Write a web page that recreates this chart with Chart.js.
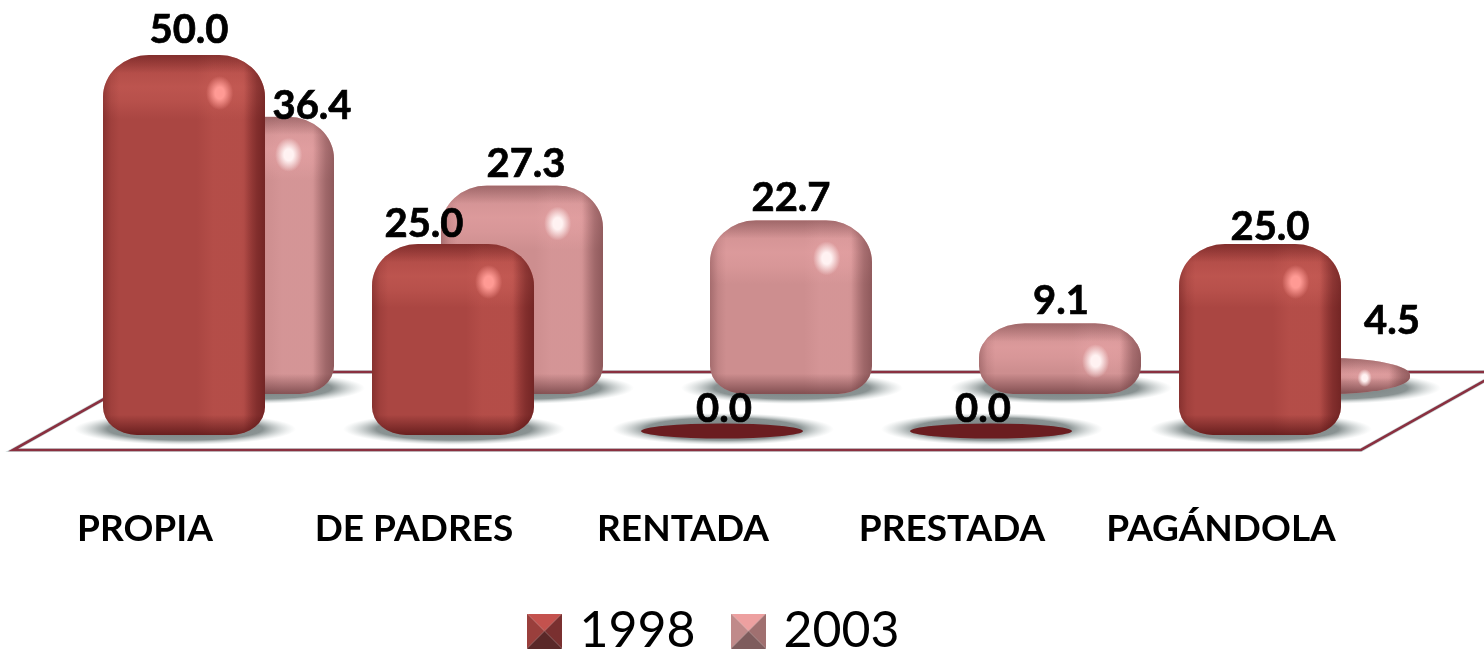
<!DOCTYPE html>
<html><head><meta charset="utf-8">
<style>html,body{margin:0;padding:0;background:#fff}#w{width:1484px;height:653px}</style>
<script src="https://cdn.jsdelivr.net/npm/chart.js@4"></script>
</head><body><div id="w"><canvas id="c" width="1484" height="653"></canvas></div>
<script>
const categories = ['PROPIA','DE PADRES','RENTADA','PRESTADA','PAGÁNDOLA'];
const values1998 = [50.0,25.0,0.0,0.0,25.0];
const values2003 = [36.4,27.3,22.7,9.1,4.5];
const seriesNames = ['1998','2003'];

const palette = {
  '1998':{base:'#aa4642',shine:'rgba(214,104,96,',edge:'rgba(70,10,12,',dot:'#ff9a94',band:'rgba(225,110,100,',zero:'#6b1d20',top:'#c4524e',left:'#9a3f3c',right:'#7a3030',bot:'#5a2828'},
  '2003':{base:'#cd8e8f',shine:'rgba(240,170,172,',edge:'rgba(90,45,48,',dot:'#fff2f2',band:'rgba(245,180,182,',zero:'#b07070',top:'#eda0a0',left:'#c08a8a',right:'#a07070',bot:'#7e5c5d'}
};
const labelNudge = {'1998':[[5,-13],[-29,-8],[2,-12],[-8,-12],[10,-5]],'2003':[[59,1],[4,-10],[0,-10],[1,-10],[63,-25]]};

function swatch(p){
  const s=35,c=document.createElement('canvas');c.width=c.height=s;const g=c.getContext('2d');
  const tri=(a,b,col)=>{g.fillStyle=col;g.beginPath();g.moveTo(a[0],a[1]);g.lineTo(b[0],b[1]);g.lineTo(s/2,s/2);g.closePath();g.fill();};
  tri([0,0],[s,0],p.top);tri([0,0],[0,s],p.left);tri([s,0],[s,s],p.right);tri([0,s],[s,s],p.bot);
  return c;
}
const swatches=[swatch(palette['1998']),swatch(palette['2003'])];

function roundedPath(ctx,l,t,r,b,rx,ry,rx2,ry2){
  ctx.beginPath();
  ctx.moveTo(l,t+ry);
  ctx.ellipse(l+rx,t+ry,rx,ry,0,Math.PI,1.5*Math.PI);
  ctx.lineTo(r-rx,t);
  ctx.ellipse(r-rx,t+ry,rx,ry,0,1.5*Math.PI,2*Math.PI);
  ctx.lineTo(r,b-ry2);
  ctx.ellipse(r-rx2,b-ry2,rx2,ry2,0,0,.5*Math.PI);
  ctx.lineTo(l+rx2,b);
  ctx.ellipse(l+rx2,b-ry2,rx2,ry2,0,.5*Math.PI,Math.PI);
  ctx.closePath();
}
Chart.BarElement.prototype.draw=function(ctx){
  const {x,y,base,width}=this.getProps(['x','y','base','width'],true);
  const key=this.options.backgroundColor;
  const p=key===palette['1998'].base?palette['1998']:palette['2003'];
  const l=x-width/2,r=x+width/2,t=y,b=base,h=b-t;
  ctx.save();
  const sy=b-5;
  ctx.save();ctx.translate(x+1,sy);ctx.scale((width/2+30)/16,1);
  let sg=ctx.createRadialGradient(0,0,0,0,0,16);
  sg.addColorStop(0,'rgba(115,125,125,1)');sg.addColorStop(.7,'rgba(125,135,135,.9)');sg.addColorStop(1,'rgba(190,200,200,0)');
  ctx.fillStyle=sg;ctx.beginPath();ctx.arc(0,0,16,0,Math.PI*2);ctx.fill();ctx.restore();
  if(h<2){
    ctx.fillStyle=p.zero;ctx.beginPath();ctx.ellipse(x,b-3,width/2,7.5,0,0,Math.PI*2);ctx.fill();
    ctx.restore();return;
  }
  const small=h<50;
  const ry=Math.min(42,h*.5),rx=small?width/2:46;
  const ry2=Math.min(28,h*.5),rx2=small?width/2:34;
  const bt=t-1,bb=b+1;
  roundedPath(ctx,l,bt,r,bb,rx,ry,rx2,ry2);
  ctx.fillStyle=p.base;ctx.fill();ctx.clip();
  let g=ctx.createLinearGradient(l,0,r,0);
  g.addColorStop(.58,p.band+'0)');g.addColorStop(.68,p.band+'.18)');g.addColorStop(.85,p.band+'.18)');g.addColorStop(.92,p.band+'0)');
  ctx.fillStyle=g;ctx.fillRect(l,bt,width,h+2);
  const sh=Math.min(64,h*.7);
  g=ctx.createLinearGradient(0,bt,0,bt+sh);
  g.addColorStop(0,p.shine+'0)');g.addColorStop(.5,p.shine+'.42)');g.addColorStop(.72,p.shine+'.3)');g.addColorStop(1,p.shine+'0)');
  ctx.fillStyle=g;ctx.fillRect(l,bt,width,sh);
  g=ctx.createLinearGradient(l,0,r,0);
  g.addColorStop(0,p.edge+'.35)');g.addColorStop(.05,p.edge+'.1)');g.addColorStop(.1,p.edge+'0)');
  g.addColorStop(.87,p.edge+'0)');g.addColorStop(.95,p.edge+'.4)');g.addColorStop(1,p.edge+'.55)');
  ctx.fillStyle=g;ctx.fillRect(l,bt,width,h+2);
  g=ctx.createLinearGradient(0,bt,0,bb);
  const tf=Math.min(.45,18/h),bf=Math.min(.45,20/h);
  g.addColorStop(0,p.edge+'.4)');g.addColorStop(tf,p.edge+'0)');g.addColorStop(1-bf,p.edge+'0)');g.addColorStop(1,p.edge+'.65)');
  ctx.fillStyle=g;ctx.fillRect(l,bt,width,h+2);
  const dx=l+width*.72,dy=t+Math.min(37,h*.56);
  ctx.save();ctx.translate(dx,dy);ctx.scale(.8,1);
  const dr=small?9:17;
  let dg=ctx.createRadialGradient(0,0,1,0,0,dr);
  dg.addColorStop(0,p.dot);dg.addColorStop(.3,p.dot);dg.addColorStop(1,p.dot+'00');
  ctx.fillStyle=dg;ctx.beginPath();ctx.arc(0,0,dr,0,Math.PI*2);ctx.fill();ctx.restore();
  ctx.restore();
};

const floorPlugin={id:'floor',beforeDatasetsDraw(chart){
  const ctx=chart.ctx,a=chart.scales.y.getPixelForValue(0);
  const by=a+16,ty=a-62,lx=13,rx=1361,sk=139;
  ctx.save();
  ctx.beginPath();ctx.moveTo(lx,by);ctx.lineTo(rx,by);ctx.lineTo(rx+sk,ty);ctx.lineTo(lx+sk,ty);ctx.closePath();
  ctx.fillStyle='#fff';ctx.fill();
  ctx.strokeStyle='rgba(170,195,195,.6)';ctx.lineWidth=4;ctx.translate(0,1.5);ctx.stroke();ctx.translate(0,-1.5);
  ctx.strokeStyle='#8a3040';ctx.lineWidth=2.6;ctx.stroke();
  ctx.restore();
}};
const labelPlugin={id:'vals',afterDatasetsDraw(chart){
  const ctx=chart.ctx;ctx.save();
  ctx.font='bold 40px Lato';ctx.fillStyle='#000';ctx.strokeStyle='#000';ctx.lineWidth=.7;ctx.textAlign='center';ctx.textBaseline='alphabetic';
  chart.data.datasets.forEach((ds,i)=>{
    chart.getDatasetMeta(i).data.forEach((el,j)=>{
      const n=labelNudge[ds.label][j],s=ds.data[j].y.toFixed(1);
      ctx.fillText(s,el.x+n[0],el.y+n[1]);ctx.strokeText(s,el.x+n[0],el.y+n[1]);
    });
  });
  ctx.restore();
}};
const legendShift={id:'legendShift',afterLayout(chart){
  const L=chart.legend;L.right+=68;L.top+=13;
}};
const pts=a=>a.map((v,i)=>({x:i,y:v}));
new Chart(document.getElementById('c'),{
  type:'bar',
  data:{labels:categories,datasets:[
    {label:seriesNames[0],data:pts(values1998),backgroundColor:palette['1998'].base,xAxisID:'xFront',yAxisID:'y',barThickness:162,grouped:false,clip:false},
    {label:seriesNames[1],data:pts(values2003),backgroundColor:palette['2003'].base,xAxisID:'xBack',yAxisID:'yBack',barThickness:162,grouped:false,clip:false}
  ]},
  plugins:[floorPlugin,labelPlugin,legendShift],
  options:{
    responsive:false,animation:false,
    layout:{padding:{left:10.5,right:128.5,top:0,bottom:0}},
    plugins:{
      tooltip:{enabled:false},
      legend:{position:'bottom',labels:{
        font:{family:'Lato',size:50},color:'#000',usePointStyle:true,pointStyleWidth:20,padding:43,
        generateLabels:()=>seriesNames.map((n,i)=>({text:n,pointStyle:swatches[i],datasetIndex:i,fontColor:'#000',lineWidth:0,strokeStyle:'transparent',fillStyle:'transparent',hidden:false}))
      }}
    },
    scales:{
      x:{type:'category',position:'bottom',grid:{display:false},border:{display:false},
        afterFit:s=>{s.height=92;},
        ticks:{color:'#000',font:{family:'Lato',weight:'bold',size:37},padding:41,maxRotation:0,autoSkip:false}},
      xFront:{type:'linear',display:false,offset:false,min:-0.645,max:4.355},
      xBack:{type:'linear',display:false,offset:false,min:-0.9015,max:4.0985},
      y:{display:false,min:-3.175,max:57.41},
      yBack:{display:false,min:-8.6,max:51.98}
    }
  }
});
</script></body></html>
